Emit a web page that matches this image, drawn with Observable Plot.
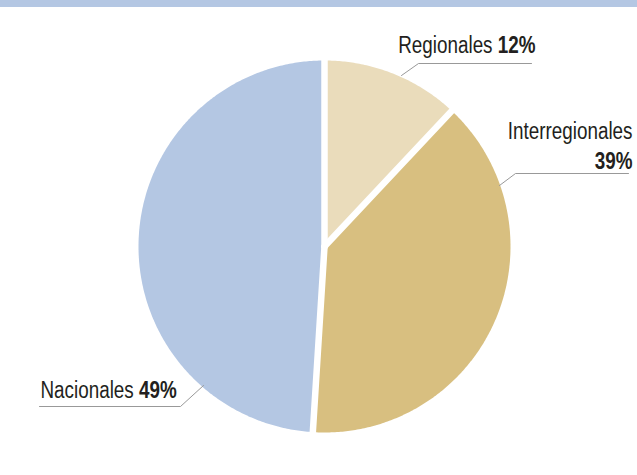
<!DOCTYPE html>
<html>
<head>
<meta charset="utf-8">
<script src="https://cdn.jsdelivr.net/npm/d3@7"></script>
<script src="https://cdn.jsdelivr.net/npm/@observablehq/plot@0.6"></script>
<style>
  html, body { margin: 0; padding: 0; background: #fff; }
  #band { width: 637px; height: 7px; background: #b4c7e3; }
  #chart { width: 637px; height: 468px; }
</style>
</head>
<body>
<div id="band"></div>
<div id="chart"></div>
<script>
// ---- data ----
const categories = ["Regionales", "Interregionales", "Nacionales"];
const shares = [12, 39, 49];
const pctLabels = ["12%", "39%", "49%"];

// ---- styles / layout ----
const colors = ["#eadcbb", "#d8bf80", "#b4c7e3"];
const R = 186;
const condense = 0.82;
// label anchors (pixel offsets from pie centre)
const labelLayout = [
  {name: "Regionales", x: 211, y: -215, anchor: "end", sep: " "},
  {name: "Interregionales", x: 308, y: -129, anchor: "end", sep: "\n"},
  {name: "Nacionales", x: -284, y: 130, anchor: "start", sep: " "}
];
const leaderLayout = [
  {name: "Regionales", pts: [[77, -171], [94, -183], [207, -183]]},
  {name: "Interregionales", pts: [[175, -61], [191, -73], [304, -73]]},
  {name: "Nacionales", pts: [[-121, 139], [-144, 160], [-285, 160]]}
];

const table = categories.map((c, i) => ({name: c, value: shares[i], pct: pctLabels[i]}));
const arcs = d3.pie().sort(null).value(d => d.value)(table);

const slicePts = [];
arcs.forEach(a => {
  const name = a.data.name;
  slicePts.push({name, x: 0, y: 0});
  const n = Math.max(2, Math.ceil((a.endAngle - a.startAngle) / 0.01));
  for (let k = 0; k <= n; k++) {
    const t = a.startAngle + (a.endAngle - a.startAngle) * k / n;
    slicePts.push({name, x: R * Math.sin(t), y: -R * Math.cos(t)});
  }
  slicePts.push({name, x: 0, y: 0});
});
const boundaries = arcs.map(a => a.startAngle);

const leaderPts = leaderLayout.flatMap(l => l.pts.map(p => ({name: l.name, x: p[0], y: p[1]})));

const labels = labelLayout.map(l => {
  const d = table.find(t => t.name === l.name);
  return {...l, text: d.name + l.sep + d.pct};
});

const font = "'Liberation Sans', Arial, sans-serif";
const textOpts = {x: "x", y: "y", text: "text", lineAnchor: "top", lineHeight: 1.3,
  fontSize: 23, fill: "#231f20", fontFamily: font};

const plot = Plot.plot({
  width: 637,
  height: 468,
  margin: 0,
  x: {domain: [-324, 313], range: [0, 637], axis: null},
  y: {domain: [-239, 229], range: [0, 468], axis: null},
  color: {domain: categories, range: colors},
  style: {fontFamily: font, background: "#fff", overflow: "visible"},
  marks: [
    Plot.line(slicePts, {x: "x", y: "y", z: "name", fill: "name", stroke: "none", curve: "linear"}),
    Plot.link(boundaries, {
      x1: 0, y1: 0,
      x2: t => (R + 8) * Math.sin(t), y2: t => -(R + 8) * Math.cos(t),
      stroke: "white", strokeWidth: 6.5, strokeLinecap: "round"
    }),
    Plot.line(leaderPts, {x: "x", y: "y", z: "name", stroke: "#999", strokeWidth: 1}),
    Plot.text(labels.filter(d => d.anchor === "end"), {...textOpts, textAnchor: "end"}),
    Plot.text(labels.filter(d => d.anchor === "start"), {...textOpts, textAnchor: "start"})
  ]
});

// make the percentages bold
plot.querySelectorAll("text, tspan").forEach(el => {
  if (el.children.length) return;
  const s = el.textContent;
  const m = s.match(/^(.*?)(\d+%)$/);
  if (!m) return;
  if (m[1] === "") { el.setAttribute("font-weight", "bold"); return; }
  el.textContent = m[1];
  const b = document.createElementNS("http://www.w3.org/2000/svg", "tspan");
  b.setAttribute("font-weight", "bold");
  b.textContent = m[2];
  el.appendChild(b);
});

// condensed look: compress each label horizontally about its anchor point
plot.querySelectorAll("text").forEach(t => {
  const tr = t.getAttribute("transform") || "";
  t.setAttribute("transform", (tr + ` scale(${condense},1)`).trim());
});

document.getElementById("chart").appendChild(plot);
</script>
</body>
</html>
